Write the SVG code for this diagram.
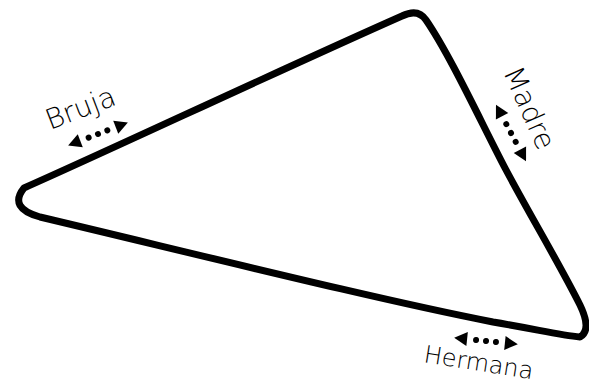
<svg xmlns="http://www.w3.org/2000/svg" width="589" height="384" viewBox="0 0 589 384">
<style>
.lbl{font-family:"DejaVu Sans","Liberation Sans",sans-serif;font-weight:200;fill:#000}
.tri{fill:none;stroke:#000;stroke-width:7;stroke-linejoin:round;stroke-linecap:round}
</style>
<defs>
<g id="dbl">
<polygon points="-32,0 -19,-7 -19,7" fill="#000"/>
<circle cx="-10" cy="0" r="3" fill="#000"/>
<circle cx="0" cy="0" r="3" fill="#000"/>
<circle cx="10" cy="0" r="3" fill="#000"/>
<polygon points="32,0 19,-7 19,7" fill="#000"/>
</g>
</defs>
<rect width="589" height="384" fill="#fff"/>
<g id="connectors">
<path class="tri" d="M 24 188 C 110 150, 280 70, 402 16 Q 418 8, 426 20 C 450 55, 480 120, 505 168 C 530 215, 560 265, 580 305 Q 592 330, 580 337 C 560 335, 540 330, 493 322 C 380 300, 200 255, 40 217 Q 8 208, 24 188 Z"/>
</g>
<g id="bruja">
<text class="lbl" font-size="28" transform="translate(50,130) rotate(-21)">Bruja</text>
<use href="#dbl" transform="translate(98,134) rotate(-21)"/>
</g>
<g id="madre">
<text class="lbl" font-size="28" transform="translate(503,72) rotate(66)">Madre</text>
<use href="#dbl" transform="translate(511,133) rotate(62)"/>
</g>
<g id="hermana">
<text class="lbl" font-size="24" transform="translate(423,362) rotate(9)">Hermana</text>
<use href="#dbl" transform="translate(486,341) rotate(6)"/>
</g>
</svg>
